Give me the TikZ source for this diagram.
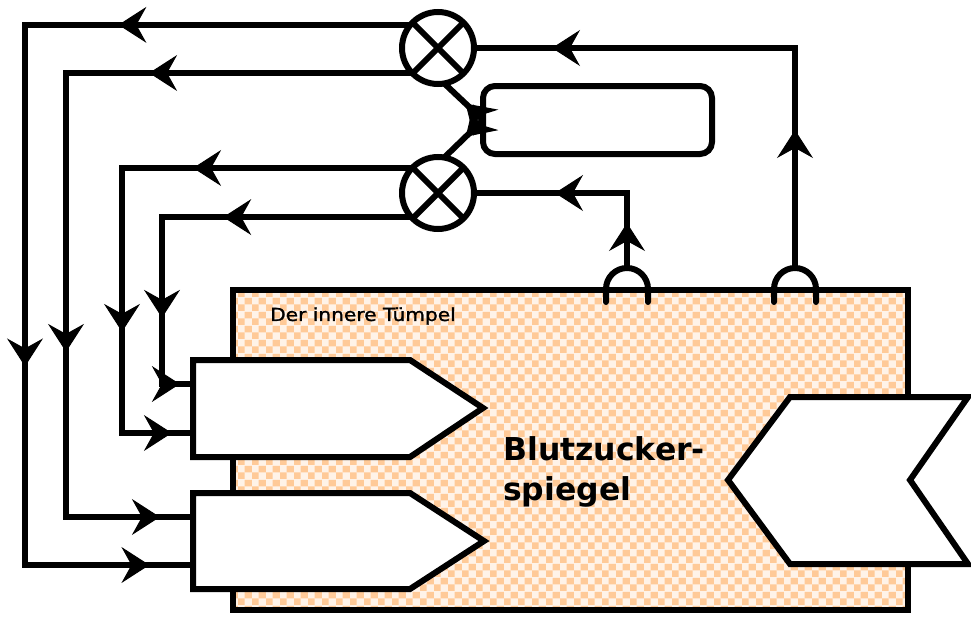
\documentclass[tikz,border=0pt]{standalone}
\usepackage{fontspec}
\setmainfont{DejaVu Sans}
\usetikzlibrary{arrows.meta,decorations.markings,patterns.meta}
\definecolor{tuorange}{HTML}{FFCA98}
\definecolor{tulight}{HTML}{FFF3E8}
\tikzdeclarepattern{
  name=tuempel,
  type=colored,
  bottom left={(0pt,0pt)},
  top right={(14pt,14pt)},
  tile size={(14pt,14pt)},
  code={
    \fill[tuorange] (0pt,0pt) rectangle (7pt,7pt);
    \fill[tuorange] (7pt,7pt) rectangle (14pt,14pt);
  }
}
\tikzset{
  mytip/.tip={Stealth[length=28pt,width=36pt,inset=10pt,line width=1pt]},
  line/.style={line width=6pt, line join=miter},
  conn/.style={line, postaction={decorate}},
  mult/.style={circle, draw, line width=6pt, fill=white, minimum size=72pt, inner sep=0pt, outer sep=0pt},
}
\begin{document}
\begin{tikzpicture}[x=1pt,y=-1pt]
\useasboundingbox (0,0) rectangle (971,618);

% corner coordinates of the feedback lines
\coordinate (k1) at (25,565);
\coordinate (k2) at (66,517);
\coordinate (k3) at (122,433);
\coordinate (k4) at (162,384);
\coordinate (b1a) at (193,384);
\coordinate (b1b) at (193,433);
\coordinate (b2a) at (193,517);
\coordinate (b2b) at (193,565);
\coordinate (bumpL) at (627,289);
\coordinate (bumpR) at (795,289);
\coordinate (bumpLt) at (627,268);
\coordinate (bumpRt) at (795,268);

% multipliers and parameter box
\node[mult] (c1) at (438,48) {};
\node[mult] (c2) at (438,193) {};
\node[draw, line width=6pt, fill=white, rounded corners=12pt, minimum width=229pt, minimum height=68pt, inner sep=0pt, outer sep=0pt] (rb) at (597.5,120) {};

% feedback connectors
\draw[conn, decoration={markings,
    mark=at position 292pt with {\arrow{mytip}},
    mark=at position 727pt with {\arrow{mytip}},
    mark=at position 1050pt with {\arrow{mytip}}}]
  (c1.140) -| (k1) -- (b2b);
\draw[conn, decoration={markings,
    mark=at position 263pt with {\arrow{mytip}},
    mark=at position 625pt with {\arrow{mytip}},
    mark=at position 884pt with {\arrow{mytip}}}]
  (c1.224) -| (k2) -- (b2a);
\draw[conn, decoration={markings,
    mark=at position 219pt with {\arrow{mytip}},
    mark=at position 454pt with {\arrow{mytip}},
    mark=at position 605pt with {\arrow{mytip}}}]
  (c2.136) -| (k3) -- (b1b);
\draw[conn, decoration={markings,
    mark=at position 188pt with {\arrow{mytip}},
    mark=at position 350pt with {\arrow{mytip}},
    mark=at position 434pt with {\arrow{mytip}}}]
  (c2.222) -| (k4) -- (b1a);

% the pond
\node[draw, line width=6pt, minimum width=675pt, minimum height=320pt, inner sep=0pt, outer sep=0pt,
      preaction={fill=tulight}, pattern=tuempel] (pond) at (570.5,450) {};

% input boxes
\draw[line, fill=white] (193,360) -- (410,360) -- (483,408) -- (410,457) -- (193,457) -- cycle;
\draw[line, fill=white] (193,493) -- (410,493) -- (484,541) -- (410,589) -- (193,589) -- cycle;
% output box
\draw[line, fill=white] (790,397) -- (968,397) -- (910,480) -- (968,564) -- (790,564) -- (728,480) -- cycle;

% sensor bumps
\draw[line, line cap=round] ([xshift=-21pt,yshift=-13pt]bumpL) -- ++(0,-13) arc[start angle=180, end angle=0, radius=21pt] -- ++(0,13);
\draw[line, line cap=round] ([xshift=-21pt,yshift=-13pt]bumpR) -- ++(0,-13) arc[start angle=180, end angle=0, radius=21pt] -- ++(0,13);

% measurement connectors
\draw[conn, decoration={markings,
    mark=at position 138pt with {\arrow{mytip}},
    mark=at position 463pt with {\arrow{mytip}}}]
  (bumpRt) |- (c1.east);
\draw[conn, decoration={markings,
    mark=at position 45pt with {\arrow{mytip}},
    mark=at position 147pt with {\arrow{mytip}}}]
  (bumpLt) |- (c2.east);

% parameter connectors
\draw[conn, decoration={markings, mark=at position 24pt with {\arrow{mytip}}}] (rb.west) -- (c1.-80);
\draw[conn, decoration={markings, mark=at position 24pt with {\arrow{mytip}}}] (rb.west) -- (c2.80);

% crosses
\draw[line width=6pt] (c1.45) -- (c1.225) (c1.135) -- (c1.315);
\draw[line width=6pt] (c2.45) -- (c2.225) (c2.135) -- (c2.315);

% texts
\node[anchor=west, inner sep=0pt, font=\fontsize{18}{21}\selectfont\addfontfeature{FakeBold=1.2}] (lbl) at (270,316) {\scalebox{1.12}[1]{Der innere Tümpel}};
\node[anchor=base west, inner sep=0pt, font=\bfseries\fontsize{31.5}{38}\selectfont] (bz1) at (503,460) {Blutzucker-};
\node[anchor=base west, inner sep=0pt, font=\bfseries\fontsize{31.5}{38}\selectfont] (bz2) at (503,500) {spiegel};
\end{tikzpicture}
\end{document}
